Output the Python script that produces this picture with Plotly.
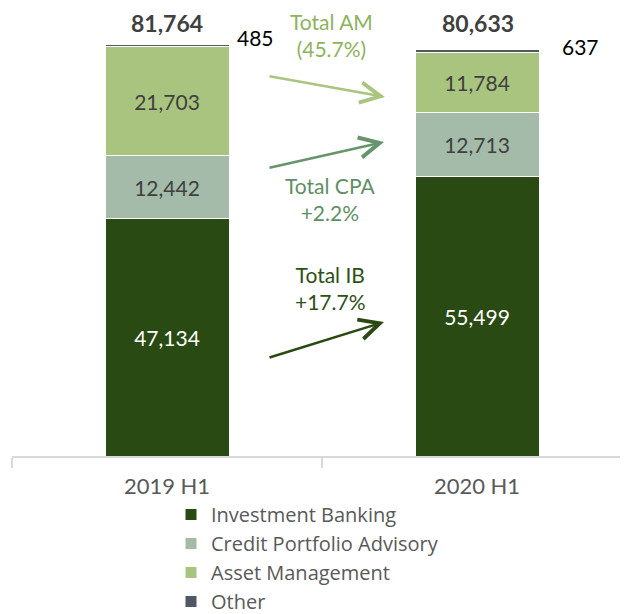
import plotly.graph_objects as go

# ---- data ----
categories = ["2019 H1", "2020 H1"]
investment_banking = [47134, 55499]
credit_portfolio_advisory = [12442, 12713]
asset_management = [21703, 11784]
other = [485, 637]
series_names = ["Investment Banking", "Credit Portfolio Advisory", "Asset Management", "Other"]
change_labels = ["Total AM<br>(45.7%)", "Total CPA<br>+2.2%", "Total IB<br>+17.7%"]

totals = [a + b + c + d for a, b, c, d in zip(investment_banking, credit_portfolio_advisory,
                                               asset_management, other)]

# ---- layout constants (page has an 8px body margin) ----
OFF = 8
W, H = 620, 640
L, R, T = 4, 0, 0
PH = 456 - OFF - T
B = H - T - PH
PW = W - L - R
FONT = "Lato"
PX_PER_UNIT = 412 / 81764.0


def paper_x(px):  # px given in page coordinates
    return (px - OFF - L) / PW


def paper_y(py):
    return (T + PH - (py - OFF)) / PH


colors = ["#294a12", "#a3bba8", "#a9c47f", "#505864"]
text_colors = ["#ffffff", "#404040", "#404040", "#404040"]
values = [investment_banking, credit_portfolio_advisory, asset_management, other]

fig = go.Figure()
for name, vals, col, tcol in zip(series_names, values, colors, text_colors):
    show_text = name != "Other"
    fig.add_trace(go.Bar(
        name=name, x=categories, y=vals, width=0.4,
        marker=dict(color=col, line=dict(color="white", width=1)),
        texttemplate="%{y:,}" if show_text else None,
        textposition="inside" if show_text else "none",
        insidetextanchor="middle",
        textfont=dict(family=FONT, size=21, color=tcol),
        hoverinfo="skip",
    ))

annotations = []
# totals on top
for tot, cx in zip(totals, [167, 478]):
    annotations.append(dict(
        x=paper_x(cx), y=paper_y(23), xref="paper", yref="paper",
        text=f"<b>{tot:,}</b>", showarrow=False, xanchor="center", yanchor="middle",
        font=dict(family=FONT, size=23, color="#404040")))
# 'Other' labels
for val, cx, cy in zip(other, [255, 580], [37, 46]):
    annotations.append(dict(
        x=paper_x(cx), y=paper_y(cy), xref="paper", yref="paper",
        text=f"{val:,}", showarrow=False, xanchor="center", yanchor="middle",
        font=dict(family=FONT, size=21, color="#000000")))

# change texts
text_specs = [(332, 35, "#8db35c"), (330, 199, "#5f9065"), (330, 288, "#2c5016")]
for lab, (cx, cy, col) in zip(change_labels, text_specs):
    annotations.append(dict(
        x=paper_x(cx), y=paper_y(cy), xref="paper", yref="paper",
        text=lab, showarrow=False, xanchor="center", yanchor="middle",
        font=dict(family=FONT, size=21, color=col)))

# arrows (head, tail)
arrow_specs = [((385, 97), (268, 76), "#a9c57f"),
               ((384, 142), (268, 168), "#65956b"),
               ((384, 322), (268, 358), "#2a4a12")]
for (hx, hy), (tx, ty), col in arrow_specs:
    annotations.append(dict(
        x=paper_x(hx), y=paper_y(hy), xref="paper", yref="paper",
        ax=tx - hx, ay=ty - hy, text="", showarrow=True,
        arrowhead=5, arrowsize=1.6, arrowwidth=2.5, arrowcolor=col))

fig.update_layout(
    width=W, height=H,
    margin=dict(l=L, r=R, t=T, b=B, pad=0),
    barmode="stack",
    plot_bgcolor="white", paper_bgcolor="white",
    showlegend=True,
    legend=dict(
        x=paper_x(171), y=paper_y(495), xanchor="left", yanchor="top",
        traceorder="normal", orientation="v",
        font=dict(family="Open Sans", size=20, color="#595959"),
        bgcolor="rgba(0,0,0,0)", itemclick=False,
    ),
    xaxis=dict(
        type="category", range=[-0.5, -0.5 + PW / 310.0],
        showline=True, linecolor="#d9d9d9", linewidth=1.5,
        ticks="outside", tickson="boundaries", ticklen=10, tickcolor="#d9d9d9", tickwidth=1.5,
        tickfont=dict(family=FONT, size=22, color="#595959"),
        ticklabelstandoff=10, showgrid=False, zeroline=False, fixedrange=True,
    ),
    yaxis=dict(
        visible=False, range=[0, PH / PX_PER_UNIT], showgrid=False, zeroline=False,
        fixedrange=True,
    ),
    annotations=annotations,
)

fig.write_html("out.html")
